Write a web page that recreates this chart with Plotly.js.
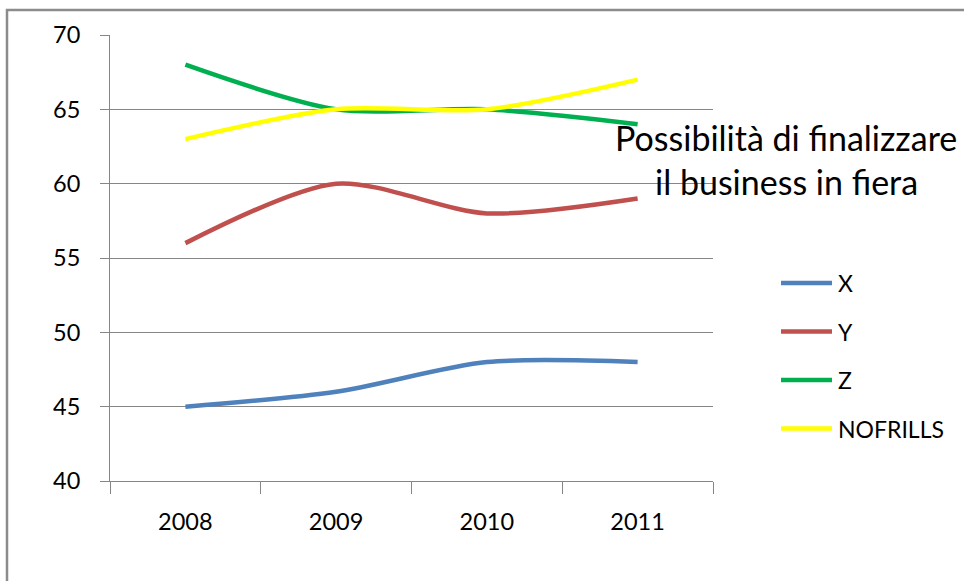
<!DOCTYPE html>
<html>
<head>
<meta charset="utf-8">
<script src="https://cdn.plot.ly/plotly-3.0.1.min.js"></script>
<style>
html,body{margin:0;padding:0;background:#fff;overflow:hidden;}
#chart{width:964px;height:581px;}
</style>
</head>
<body>
<div id="chart"></div>
<script>
const categories = ["2008", "2009", "2010", "2011"];
const seriesNames = ["X", "Y", "Z", "NOFRILLS"];
const valuesX = [45, 46, 48, 48];
const valuesY = [56, 60, 58, 59];
const valuesZ = [68, 65, 65, 64];
const valuesNofrills = [63, 65, 65, 67];
const titleLines = ["Possibilità di finalizzare", "il business in fiera"];
const yTicks = [40, 45, 50, 55, 60, 65, 70];

const colors = ["#4F81BD", "#C0504D", "#00B050", "#FFFF00"];
const allValues = [valuesX, valuesY, valuesZ, valuesNofrills];
const FONT = "Lato, 'Open Sans', sans-serif";

const traces = allValues.map((vals, i) => ({
  type: "scatter",
  mode: "lines",
  x: categories,
  y: vals,
  name: seriesNames[i],
  showlegend: false,
  line: {color: colors[i], width: 4.5, shape: "spline", smoothing: 0.8},
  hoverinfo: "x+y+name"
}));

const W = 964, H = 581;
const L = 110, R = 713, T = 35, B = 481;
const pw = R - L, ph = B - T;
const px = v => (v - L) / pw;
const py = v => (B - v) / ph;

// custom legend (Excel-style long line samples)
const legendTop = 283, legendStep = 48.5;
const legendShapes = seriesNames.map((n, i) => ({
  type: "line", xref: "paper", yref: "paper",
  x0: px(781), x1: px(832),
  y0: py(legendTop + i * legendStep), y1: py(legendTop + i * legendStep),
  line: {color: colors[i], width: 4.5}
}));
const legendLabels = seriesNames.map((n, i) => ({
  xref: "paper", yref: "paper",
  x: px(836), y: py(legendTop + i * legendStep),
  xanchor: "left", yanchor: "middle",
  text: n, showarrow: false,
  font: {family: FONT, size: 23, color: "#000"}
}));

const layout = {
  width: W, height: H,
  margin: {l: L, r: W - R, t: T, b: H - B, pad: 0},
  paper_bgcolor: "#ffffff",
  plot_bgcolor: "#ffffff",
  showlegend: false,
  font: {family: FONT, color: "#000000", size: 23},
  xaxis: {
    type: "category",
    categoryorder: "array",
    categoryarray: categories,
    range: [-0.5, categories.length - 0.5],
    tickson: "boundaries",
    ticks: "outside",
    ticklen: 12,
    tickwidth: 1,
    tickcolor: "#868686",
    showgrid: false,
    showline: true,
    linecolor: "#868686",
    linewidth: 1,
    zeroline: false,
    ticklabelstandoff: 20,
    tickfont: {family: FONT, size: 23.5, color: "#000"},
    fixedrange: true
  },
  yaxis: {
    range: [40, 70],
    tickvals: yTicks,
    ticktext: yTicks.map(String),
    ticks: "outside",
    ticklen: 9,
    tickwidth: 1,
    tickcolor: "#868686",
    showgrid: true,
    gridcolor: "#868686",
    gridwidth: 1,
    showline: true,
    linecolor: "#868686",
    linewidth: 1,
    zeroline: false,
    ticklabelstandoff: 15,
    tickfont: {family: FONT, size: 23.5, color: "#000"},
    fixedrange: true
  },
  annotations: [
    {xref: "paper", yref: "paper", x: px(786), y: py(137), xanchor: "center", yanchor: "middle",
     text: titleLines[0], showarrow: false, font: {family: FONT, size: 34, color: "#000"}},
    {xref: "paper", yref: "paper", x: px(786), y: py(182), xanchor: "center", yanchor: "middle",
     text: titleLines[1], showarrow: false, font: {family: FONT, size: 34, color: "#000"}}
  ].concat(legendLabels),
  shapes: [
    {type: "rect", xref: "paper", yref: "paper", x0: px(7), x1: px(975), y0: py(10), y1: py(600),
     line: {color: "#8c8c8c", width: 2.5}, fillcolor: "rgba(0,0,0,0)", layer: "below"}
  ].concat(legendShapes)
};

Plotly.newPlot("chart", traces, layout, {displayModeBar: false, staticPlot: true});
</script>
</body>
</html>
